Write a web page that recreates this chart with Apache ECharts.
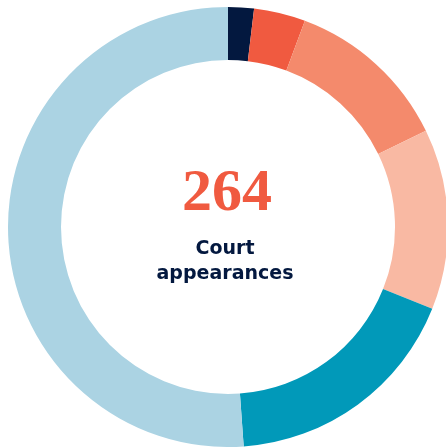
<!DOCTYPE html>
<html lang="en">
<head>
  <meta charset="UTF-8">
  <script src="https://cdn.jsdelivr.net/npm/echarts@6/dist/echarts.min.js"></script>
  <title>court appearances</title>
  <style>
    html, body { margin: 0; padding: 0; background: #fff; }
  </style>
</head>
<body>
<div id="donut" style="width: 446px; height: 447px;"></div>
<script type="text/javascript">
  // slices, clockwise from 12 o'clock
  const names  = ['A', 'B', 'C', 'D', 'E', 'F'];
  const values = [5, 10, 32, 35, 47, 135];
  const colors = ['#03183f', '#f05a40', '#f48a6c', '#f9b9a3', '#0199b9', '#abd3e3'];
  const total  = 264;
  const caption = ['Court', 'appearances'];

  function drawDonut() {
    let chart = echarts.init(document.getElementById('donut'));
    let data = values.map(function (v, i) {
      return { name: names[i], value: v, itemStyle: { color: colors[i] } };
    });
    chart.setOption({
      animation: false,
      series: [
        {
          type: 'pie',
          center: [228, 227],
          radius: [167, 220],
          startAngle: 90,
          clockwise: true,
          label: { show: false },
          labelLine: { show: false },
          emphasis: { disabled: true },
          itemStyle: { borderWidth: 0 },
          data: data
        }
      ],
      graphic: [
        {
          type: 'text',
          x: 227,
          y: 224,
          style: {
            text: String(total),
            font: 'bold 60px "Liberation Serif", serif',
            fill: '#f05a40',
            align: 'center',
            verticalAlign: 'bottom'
          }
        },
        {
          type: 'text',
          x: 225,
          y: 259,
          style: {
            text: caption[0],
            font: 'bold 19px "DejaVu Sans", sans-serif',
            fill: '#03183f',
            align: 'center',
            verticalAlign: 'bottom'
          }
        },
        {
          type: 'text',
          x: 225,
          y: 284,
          style: {
            text: caption[1],
            font: 'bold 19px "DejaVu Sans", sans-serif',
            fill: '#03183f',
            align: 'center',
            verticalAlign: 'bottom'
          }
        }
      ]
    });
  }

  drawDonut();
</script>
</body>
</html>
